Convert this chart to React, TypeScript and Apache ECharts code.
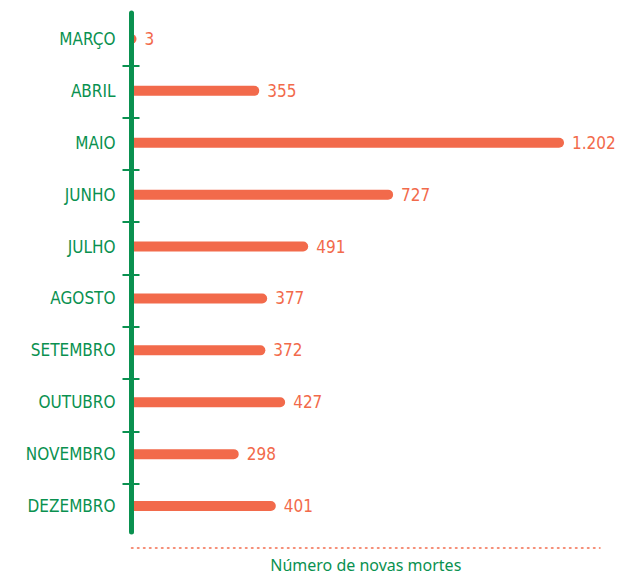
import React, { useEffect, useRef } from "react";
import * as echarts from "echarts";

const months = ["MARÇO", "ABRIL", "MAIO", "JUNHO", "JULHO", "AGOSTO", "SETEMBRO", "OUTUBRO", "NOVEMBRO", "DEZEMBRO"];
const deaths = [3, 355, 1202, 727, 491, 377, 372, 427, 298, 401];
const axisName = "Número de novas mortes";

const GREEN = "#0a9150";
const ORANGE = "#f26a4b";
const NARROW = "'Liberation Sans Narrow', 'DejaVu Sans Condensed', 'Roboto', sans-serif";

function fmt(v: number): string {
  return String(v).replace(/\B(?=(\d{3})+(?!\d))/g, ".");
}

export default function App() {
  const ref = useRef<HTMLDivElement>(null);
  useEffect(() => {
    if (!ref.current) return;
    const chart = echarts.init(ref.current, null, { renderer: "svg" });
    chart.setOption({
      animation: false,
      backgroundColor: "#ffffff",
      grid: [
        { left: 131.5, right: 42, top: 13, height: 523 },
        { left: 131.5, right: 42, top: 65.3, height: 418.4 },
      ],
      xAxis: [
        {
          type: "value",
          gridIndex: 0,
          min: 0,
          max: 1302,
          offset: 16,
          axisLine: { show: true, lineStyle: { color: ORANGE, width: 1.5, type: [1.5, 4.5] } },
          axisTick: { show: false },
          axisLabel: { show: false },
          splitLine: { show: false },
          name: axisName,
          nameLocation: "middle",
          nameGap: 9,
          nameTextStyle: { color: GREEN, fontSize: 16, fontFamily: "'Noto Sans', sans-serif", verticalAlign: "top" },
        },
        { type: "value", gridIndex: 1, show: false, min: 0, max: 1 },
      ],
      yAxis: [
        {
          type: "category",
          gridIndex: 0,
          data: months,
          inverse: true,
          z: 5,
          axisLine: { show: true, lineStyle: { color: GREEN, width: 5 } },
          axisTick: { show: false },
          axisLabel: { color: GREEN, fontSize: 17, fontFamily: NARROW, margin: 16 },
        },
        {
          type: "value",
          gridIndex: 1,
          min: 0,
          max: 8,
          interval: 1,
          inverse: true,
          offset: -8,
          z: 5,
          axisLine: { show: false },
          axisTick: { show: true, length: 17, lineStyle: { color: GREEN, width: 2 } },
          axisLabel: { show: false },
          splitLine: { show: false },
        },
      ],
      series: [
        {
          type: "bar",
          xAxisIndex: 0,
          yAxisIndex: 0,
          data: deaths,
          barWidth: 10,
          barMinHeight: 5,
          itemStyle: { color: ORANGE, borderRadius: [0, 5, 5, 0] },
          label: {
            show: true,
            position: "right",
            distance: 8,
            color: ORANGE,
            fontSize: 17,
            fontFamily: NARROW,
            formatter: (p: any) => fmt(p.value),
          },
        },
      ],
    });
    return () => chart.dispose();
  }, []);
  return <div ref={ref} style={{ width: 642, height: 578, position: "absolute", left: 0, top: 0 }} />;
}
